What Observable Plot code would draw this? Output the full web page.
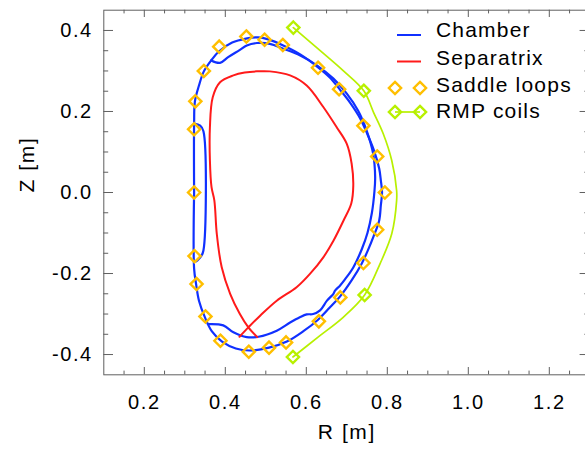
<!DOCTYPE html>
<html>
<head>
<meta charset="utf-8">
<script src="https://cdn.jsdelivr.net/npm/d3@7"></script>
<script src="https://cdn.jsdelivr.net/npm/@observablehq/plot@0.6"></script>
<style>
  html, body { margin: 0; padding: 0; background: white; overflow: hidden; }
  #c { width: 585px; height: 457px; overflow: hidden; position: relative; }
  #c svg { max-width: none !important; display: block; }
</style>
</head>
<body>
<div id="c"></div>
<script>
// ---- data (R, Z in metres) ----
const chamberOuterR = [0.323,0.323,0.325,0.335,0.347,0.365,0.384,0.417,0.451,0.481,0.506,0.543,0.585,0.629,0.658,0.683,0.708,0.733,0.750,0.767,0.780,0.784,0.787,0.784,0.780,0.767,0.752,0.737,0.713,0.683,0.658,0.629,0.592,0.552,0.508,0.459,0.426,0.392,0.367,0.350,0.335,0.328,0.323,0.323];
const chamberOuterZ = [0.000,0.170,0.225,0.264,0.299,0.326,0.348,0.370,0.380,0.383,0.378,0.363,0.341,0.309,0.284,0.254,0.222,0.183,0.146,0.104,0.059,0.030,0.000,-0.032,-0.069,-0.106,-0.143,-0.175,-0.215,-0.257,-0.284,-0.314,-0.343,-0.368,-0.383,-0.390,-0.385,-0.368,-0.343,-0.309,-0.267,-0.227,-0.188,0.000];

const chamberInnerR = [0.365,0.387,0.407,0.436,0.453,0.478,0.510,0.543,0.585,0.626,0.667,0.700,0.728,0.749,0.765,0.770,0.768,0.762,0.751,0.737,0.716,0.695,0.683,0.671,0.667,0.651,0.634,0.617,0.601,0.584,0.560,0.527,0.482,0.453,0.420,0.395,0.357];
const chamberInnerZ = [0.326,0.320,0.334,0.352,0.363,0.369,0.367,0.355,0.338,0.314,0.281,0.244,0.202,0.153,0.096,0.038,0.000,-0.050,-0.100,-0.140,-0.185,-0.215,-0.230,-0.242,-0.250,-0.267,-0.291,-0.300,-0.301,-0.308,-0.321,-0.341,-0.356,-0.357,-0.345,-0.328,-0.325];

const chamberLeftR = [0.323,0.338,0.346,0.346,0.340,0.328];
const chamberLeftZ = [0.170,0.165,0.151,-0.143,-0.158,-0.170];

const separatrixR = [0.479,0.457,0.436,0.412,0.391,0.379,0.373,0.366,0.362,0.362,0.369,0.387,0.420,0.448,0.478,0.510,0.560,0.601,0.642,0.675,0.700,0.712,0.716,0.711,0.692,0.667,0.642,0.609,0.576,0.527,0.486,0.457,0.435];
const separatrixZ = [-0.357,-0.333,-0.300,-0.250,-0.184,-0.102,-0.020,0.013,0.079,0.161,0.235,0.272,0.289,0.296,0.299,0.299,0.289,0.264,0.211,0.161,0.120,0.071,0.017,-0.027,-0.069,-0.119,-0.160,-0.201,-0.234,-0.267,-0.304,-0.333,-0.356];

const saddleR = [0.385,0.452,0.497,0.542,0.629,0.681,0.741,0.775,0.794,0.775,0.741,0.684,0.631,0.550,0.508,0.458,0.388,0.351,0.329,0.324,0.323,0.323,0.326,0.347];
const saddleZ = [0.360,0.385,0.377,0.364,0.308,0.255,0.165,0.089,0.000,-0.092,-0.174,-0.259,-0.318,-0.370,-0.383,-0.393,-0.366,-0.306,-0.226,-0.157,0.000,0.156,0.225,0.300];

const rmpLineR = [0.568,0.630,0.691,0.742,0.766,0.790,0.811,0.823,0.823,0.811,0.782,0.744,0.691,0.629,0.567];
const rmpLineZ = [0.407,0.354,0.301,0.251,0.198,0.145,0.079,0.005,-0.020,-0.102,-0.176,-0.253,-0.308,-0.357,-0.406];

const rmpCoilR = [0.568,0.742,0.744,0.567];
const rmpCoilZ = [0.407,0.251,-0.253,-0.406];

const xTicksMajor = [0.2,0.4,0.6,0.8,1.0,1.2];
const xTicksMinor = [0.15,0.25,0.3,0.35,0.45,0.5,0.55,0.65,0.7,0.75,0.85,0.9,0.95,1.05,1.1,1.15,1.25];
const yTicksMajor = [-0.4,-0.2,0.0,0.2,0.4];
const yTicksMinor = [-0.35,-0.3,-0.25,-0.15,-0.1,-0.05,0.05,0.1,0.15,0.25,0.3,0.35];

const legendLabels = ["Chamber","Separatrix","Saddle loops","RMP coils"];
const xLabel = "R [m]";
const yLabel = "Z [m]";

// ---- styles ----
const BLUE = "#1030ff", RED = "#ff1a1a", ORANGE = "#ffbf00", GREEN = "#b8f000";
const AXIS = "#606060";

const pts = (R, Z) => R.map((r, i) => ({R: r, Z: Z[i]}));
const chamber = [
  ...pts(chamberOuterR, chamberOuterZ).map(d => ({...d, part: "outer"})),
  ...pts(chamberInnerR, chamberInnerZ).map(d => ({...d, part: "inner"})),
  ...pts(chamberLeftR, chamberLeftZ).map(d => ({...d, part: "left"}))
];
const separatrix = pts(separatrixR, separatrixZ);
const saddle = pts(saddleR, saddleZ);
const rmpLine = pts(rmpLineR, rmpLineZ);
const rmpCoils = pts(rmpCoilR, rmpCoilZ);

const W = 590, H = 457;
const mL = 103.3, mR = 0.7, mT = 9.7, mB = 82.7;
const FW = W - mL - mR, FH = H - mT - mB;
const fmt = d => d.toFixed(1);
const DR = 5.5;

const chart = Plot.plot({
  width: W, height: H,
  marginLeft: mL, marginRight: mR, marginTop: mT, marginBottom: mB,
  x: {domain: [0.1, 1.3], axis: null},
  y: {domain: [-0.45, 0.45], axis: null},
  style: {fontFamily: "'Liberation Sans', Arial, sans-serif", background: "white", color: "black", maxWidth: "none"},
  marks: [
    // chamber
    Plot.line(chamber, {x: "R", y: "Z", z: "part", stroke: BLUE, strokeWidth: 2.2, curve: "catmull-rom"}),
    // separatrix
    Plot.line(separatrix, {x: "R", y: "Z", stroke: RED, strokeWidth: 2, curve: "catmull-rom"}),
    // RMP coil line
    Plot.line(rmpLine, {x: "R", y: "Z", stroke: GREEN, strokeWidth: 1.7, curve: "catmull-rom"}),
    // saddle loops
    Plot.dot(saddle, {x: "R", y: "Z", symbol: "diamond2", r: DR, stroke: ORANGE, strokeWidth: 2.4, fill: "none"}),
    // RMP coils
    Plot.dot(rmpCoils, {x: "R", y: "Z", symbol: "diamond2", r: DR, stroke: GREEN, strokeWidth: 2.4, fill: "none"}),
    // frame
    Plot.frame({stroke: AXIS, strokeWidth: 1}),
    // inward ticks: bottom / top
    Plot.tickX(xTicksMajor, {x: d => d, insetTop: FH - 7.3, stroke: AXIS}),
    Plot.tickX(xTicksMinor, {x: d => d, insetTop: FH - 3.7, stroke: AXIS}),
    Plot.tickX(xTicksMajor, {x: d => d, insetBottom: FH - 7.3, stroke: AXIS}),
    Plot.tickX(xTicksMinor, {x: d => d, insetBottom: FH - 3.7, stroke: AXIS}),
    // inward ticks: left / right
    Plot.tickY(yTicksMajor, {y: d => d, insetRight: FW - 9.7, stroke: AXIS}),
    Plot.tickY(yTicksMinor, {y: d => d, insetRight: FW - 4.9, stroke: AXIS}),
    Plot.tickY(yTicksMajor, {y: d => d, insetLeft: FW - 9.7, stroke: AXIS}),
    Plot.tickY(yTicksMinor, {y: d => d, insetLeft: FW - 4.9, stroke: AXIS}),
    // tick labels
    Plot.text(xTicksMajor, {x: d => d, frameAnchor: "bottom", dy: 34.4, text: fmt, fontSize: 20, fill: "black"}),
    Plot.text(yTicksMajor, {y: d => d, frameAnchor: "left", dx: -11, textAnchor: "end", text: fmt, fontSize: 20, fill: "black"}),
    // axis titles
    Plot.text([xLabel], {frameAnchor: "bottom", dy: 64.4, text: d => d, fontSize: 21, fill: "black"}),
    Plot.text([yLabel], {frameAnchor: "left", dx: -77, rotate: -90, text: d => d, fontSize: 21, fill: "black"})
  ]
});

d3.select(chart).selectAll("text").style("letter-spacing", "1.6px");

// ---- legend (inside the plot, upper right) ----
const svg = d3.select(chart);
const lg = svg.append("g")
  .attr("font-family", "'Liberation Sans', Arial, sans-serif")
  .attr("font-size", 21)
  .attr("text-anchor", "start")
  .style("letter-spacing", "1.2px");
const symY = [35, 61.5, 88, 112];
const baseY = [37, 64.5, 91.5, 117.5];
const diamond = d3.symbol(d3.symbolDiamond2, Math.PI * DR * DR);
// Chamber
lg.append("line").attr("x1", 397).attr("x2", 421).attr("y1", symY[0]).attr("y2", symY[0]).attr("stroke", BLUE).attr("stroke-width", 2);
// Separatrix
lg.append("line").attr("x1", 397).attr("x2", 421).attr("y1", symY[1]).attr("y2", symY[1]).attr("stroke", RED).attr("stroke-width", 2);
// Saddle loops
[395, 420].forEach(x => lg.append("path").attr("d", diamond()).attr("transform", `translate(${x},${symY[2]})`).attr("fill", "none").attr("stroke", ORANGE).attr("stroke-width", 2.4));
// RMP coils
lg.append("line").attr("x1", 395).attr("x2", 420).attr("y1", symY[3]).attr("y2", symY[3]).attr("stroke", GREEN).attr("stroke-width", 1.7);
[395, 420].forEach(x => lg.append("path").attr("d", diamond()).attr("transform", `translate(${x},${symY[3]})`).attr("fill", "none").attr("stroke", GREEN).attr("stroke-width", 2.4));
legendLabels.forEach((t, i) => lg.append("text").attr("x", 436).attr("y", baseY[i]).attr("fill", "black").attr("text-anchor", "start").text(t));

document.getElementById("c").appendChild(chart);
</script>
</body>
</html>
